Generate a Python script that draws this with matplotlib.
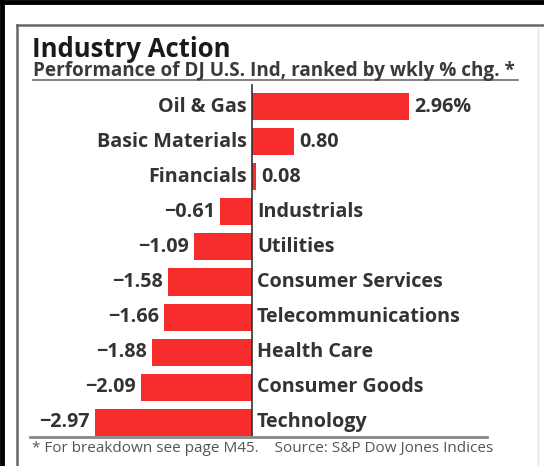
import matplotlib
matplotlib.use("Agg")
import matplotlib.pyplot as plt
from matplotlib.lines import Line2D

categories = ["Oil & Gas", "Basic Materials", "Financials", "Industrials", "Utilities",
              "Consumer Services", "Telecommunications", "Health Care", "Consumer Goods", "Technology"]
values = [2.96, 0.80, 0.08, -0.61, -1.09, -1.58, -1.66, -1.88, -2.09, -2.97]
value_labels = ["2.96%", "0.80", "0.08", "\u22120.61", "\u22121.09", "\u22121.58", "\u22121.66",
                "\u22121.88", "\u22122.09", "\u22122.97"]
title = "Industry Action"
subtitle = "Performance of DJ U.S. Ind, ranked by wkly % chg. *"
footnote = "* For breakdown see page M45.    Source: S&P Dow Jones Indices"

W, H = 544, 466
fig = plt.figure(figsize=(W / 100, H / 100), dpi=100)
fig.patch.set_facecolor("white")

def fx(x):
    return x / W

def fy(y):
    return 1 - y / H

FONT = "Open Sans"
TXT = "#333333"
RED = "#F72D2D"
LSIZE = 14.2

# Axes spanning the whole figure; zero at x=252 px, 53 px per unit; rows 35.1 px apart
zero_px, ppu = 252, 53.0
row0, pitch = 106.5, 35.1
ax = fig.add_axes([0, 0, 1, 1])
ax.set_xlim(-zero_px / ppu, (W - zero_px) / ppu)
ax.set_ylim((H - row0) / pitch, -row0 / pitch)
ax.axis("off")

rows = list(range(len(categories)))
ax.barh(rows, values, height=0.77, color=RED, zorder=2)

off = 5 / ppu
for i, (c, v, lab) in enumerate(zip(categories, values, value_labels)):
    if v >= 0:
        ax.text(-off, i, c, ha="right", va="center", fontsize=LSIZE, family=FONT,
                weight="bold", color=TXT)
        ax.text(v + off, i, lab, ha="left", va="center", fontsize=LSIZE, family=FONT,
                weight="bold", color=TXT)
    else:
        ax.text(off, i, c, ha="left", va="center", fontsize=LSIZE, family=FONT,
                weight="bold", color=TXT)
        ax.text(v - off, i, lab, ha="right", va="center", fontsize=LSIZE, family=FONT,
                weight="bold", color=TXT)

# zero line
ax.plot([0, 0], [(85 - row0) / pitch, (437 - row0) / pitch], color="#333333", lw=1.2, zorder=3)

# outer black border (top and left)
fig.add_artist(Line2D([0, 1], [fy(2), fy(2)], color="black", lw=3.5, transform=fig.transFigure))
fig.add_artist(Line2D([fx(2), fx(2)], [0, 1], color="black", lw=3.5, transform=fig.transFigure))
# inner gray box
fig.add_artist(Line2D([fx(17), 1], [fy(25), fy(25)], color="#666666", lw=1.8, transform=fig.transFigure))
fig.add_artist(Line2D([fx(17), fx(17)], [0, fy(25)], color="#666666", lw=1.8, transform=fig.transFigure))
fig.add_artist(Line2D([fx(538), fx(538)], [0, fy(28)], color="#e4e4e4", lw=1.0, transform=fig.transFigure))

# title / subtitle
fig.text(fx(32), fy(57), title, ha="left", va="baseline", fontsize=18.5, family=FONT,
         weight="bold", color="#1a1a1a")
fig.text(fx(33), fy(76), subtitle, ha="left", va="baseline", fontsize=13.6, family=FONT,
         weight="bold", color="#3a3a3a")
fig.add_artist(Line2D([fx(33), fx(518)], [fy(80), fy(80)], color="#777777", lw=1.3, transform=fig.transFigure))

# bottom rule and footnote
fig.add_artist(Line2D([fx(30), fx(487)], [fy(437), fy(437)], color="#888888", lw=2.0, transform=fig.transFigure))
fig.text(fx(32), fy(452), footnote, ha="left", va="baseline", fontsize=11, family=FONT,
         color="#555555")

fig.savefig("out.png", dpi=100)
